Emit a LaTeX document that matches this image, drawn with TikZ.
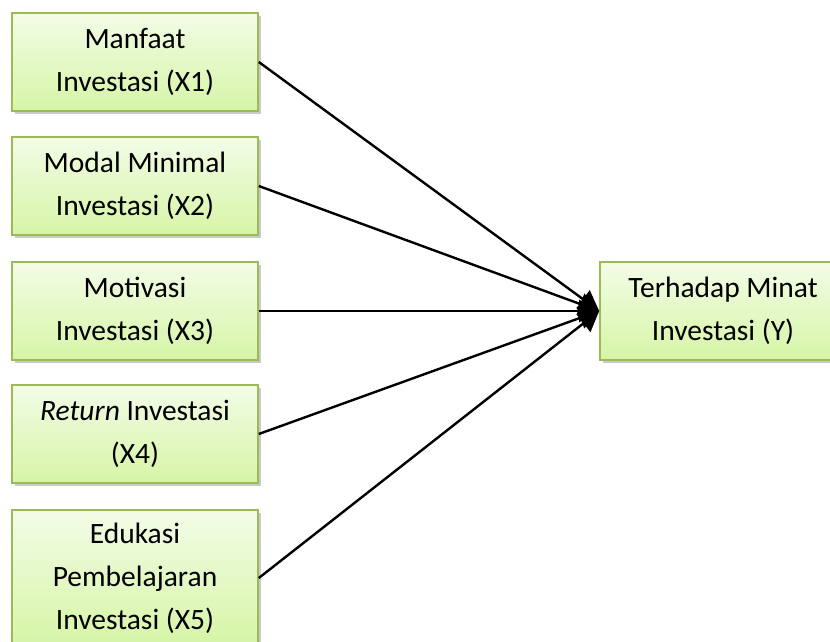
\documentclass[tikz,border=0pt]{standalone}
\usepackage{fontspec}
\setmainfont{Carlito}
\usetikzlibrary{arrows.meta, shadows}

\definecolor{boxtop}{RGB}{243,252,231}
\definecolor{boxbottom}{RGB}{214,245,166}
\definecolor{boxline}{RGB}{155,187,89}

\begin{document}
\begin{tikzpicture}[
		% one unit is one pixel of the picture, y runs down
		x=1pt, y=-1pt,
		varbox/.style={
			rectangle, draw=boxline, line width=1.6pt,
			top color=boxtop, bottom color=boxbottom,
			drop shadow={shadow xshift=3pt, shadow yshift=-3pt, opacity=0.35, fill=black!60},
			minimum width=246pt, minimum height=98pt,
			align=center, inner sep=0pt,
			font=\fontsize{29.5}{43}\selectfont
		},
		link/.style={-{Triangle[length=20pt, width=22pt]}, line width=2.4pt, black}
		]
		
		\useasboundingbox (0,0) rectangle (830,642);
		
		% ==========================================
		% 1. The independent variables X1 - X5
		% ==========================================
		\node[varbox] (x1) at (135,62) {Manfaat\\Investasi (X1)};
		\node[varbox] (x2) at (135,186) {Modal Minimal\\Investasi (X2)};
		\node[varbox] (x3) at (135,311) {Motivasi\\Investasi (X3)};
		\node[varbox] (x4) at (135,434) {\textit{Return} Investasi\\(X4)};
		\node[varbox, minimum height=136pt] (x5) at (135,578) {Edukasi\\Pembelajaran\\Investasi (X5)};
		
		% ==========================================
		% 2. The dependent variable Y
		% ==========================================
		\node[varbox] (y) at (723,311) {Terhadap Minat\\Investasi (Y)};
		
		% ==========================================
		% 3. Arrows into Y
		% ==========================================
		\foreach \i in {1,...,5} {
			\draw[link] (x\i.east) -- (y.west);
		}
		
	\end{tikzpicture}
\end{document}
